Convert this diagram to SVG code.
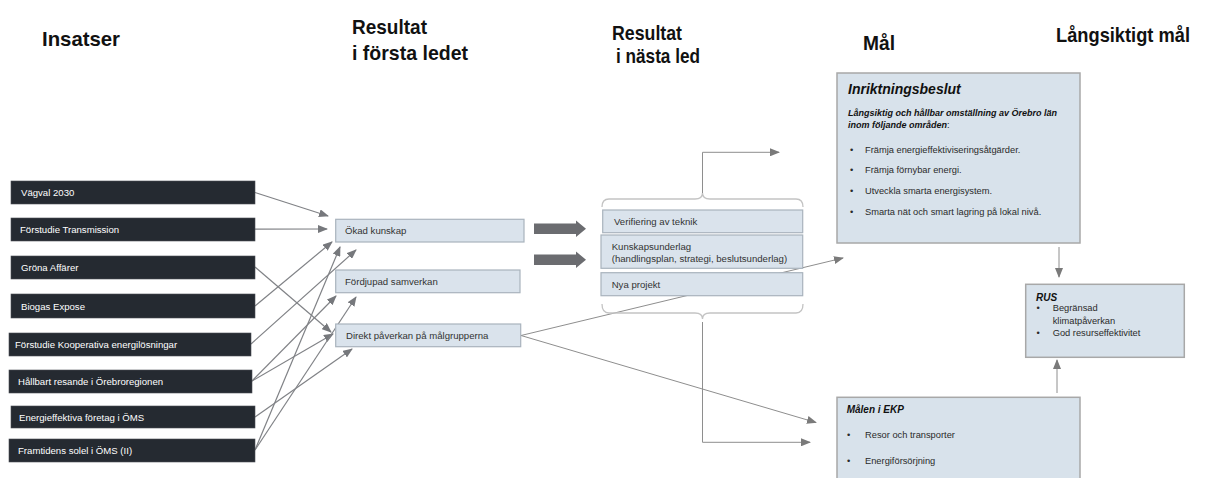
<svg xmlns="http://www.w3.org/2000/svg" width="1209" height="478" viewBox="0 0 1209 478">
<style>
  .hd{font-family:"Liberation Sans",Arial,sans-serif;font-weight:bold;font-size:21px;fill:#111;}
  .inb{fill:#252a31;stroke:#4a4e55;stroke-width:0.6;}
  .int{font-family:"Liberation Sans",Arial,sans-serif;font-size:9.6px;fill:#ffffff;}
  .rb{fill:#dae3ec;stroke:#a9b3bd;stroke-width:1.2;}
  .rt{font-family:"Liberation Sans",Arial,sans-serif;font-size:9.6px;fill:#333;}
  .gb{fill:#d8e2eb;stroke:#a8a8a8;stroke-width:1.5;}
  .gt{font-family:"Liberation Sans",Arial,sans-serif;font-size:9.3px;fill:#2a2a2a;}
  .gbi{font-family:"Liberation Sans",Arial,sans-serif;font-weight:bold;font-style:italic;fill:#111;}
  .ln{stroke:#808286;stroke-width:1.2;fill:none;marker-end:url(#ah);}
  .ln2{stroke:#8e8e8e;stroke-width:1;fill:none;marker-end:url(#ah2);}
  .br{stroke:#c3c3c3;stroke-width:1.3;fill:none;}
  .thick{fill:#6b6c70;}
</style>
<defs>
  <marker id="ah" markerUnits="userSpaceOnUse" markerWidth="10" markerHeight="8" refX="9" refY="4" orient="auto">
    <path d="M0,0 L10,4 L0,8 z" fill="#76787c"/>
  </marker>
  <marker id="ah2" markerUnits="userSpaceOnUse" markerWidth="10" markerHeight="8" refX="9" refY="4" orient="auto">
    <path d="M0,0 L10,4 L0,8 z" fill="#7a7a7a"/>
  </marker>
</defs>

<g id="headings">
  <text class="hd" x="42" y="46" textLength="78" lengthAdjust="spacingAndGlyphs">Insatser</text>
  <text class="hd" x="352" y="34" textLength="75" lengthAdjust="spacingAndGlyphs">Resultat</text>
  <text class="hd" x="352" y="60" textLength="116" lengthAdjust="spacingAndGlyphs">i första ledet</text>
  <text class="hd" x="612" y="40" textLength="70" lengthAdjust="spacingAndGlyphs">Resultat</text>
  <text class="hd" x="616" y="63" textLength="84" lengthAdjust="spacingAndGlyphs">i nästa led</text>
  <text class="hd" x="863" y="50" textLength="32" lengthAdjust="spacingAndGlyphs">Mål</text>
  <text class="hd" x="1056" y="42" font-size="18" textLength="134" lengthAdjust="spacingAndGlyphs">Långsiktigt mål</text>
</g>

<g id="connectors">
  <line class="ln" x1="255" y1="192.5" x2="328" y2="216"/>
  <line class="ln" x1="255" y1="229.2" x2="327" y2="229"/>
  <line class="ln" x1="255" y1="267" x2="331" y2="332"/>
  <line class="ln" x1="255" y1="306" x2="332" y2="242"/>
  <line class="ln" x1="251" y1="344" x2="356" y2="250"/>
  <line class="ln" x1="252" y1="381" x2="336" y2="296"/>
  <line class="ln" x1="252" y1="381" x2="333" y2="334"/>
  <line class="ln" x1="255" y1="417" x2="352" y2="349"/>
  <line class="ln" x1="255" y1="450" x2="340" y2="247"/>
  <line class="ln" x1="255" y1="450" x2="356" y2="297"/>
  <polygon class="thick" points="534,223.5 576,223.5 576,220.5 586,228.7 576,237 576,234 534,234"/>
  <polygon class="thick" points="534,254.5 576,254.5 576,251.5 586,259.7 576,268 576,265 534,265"/>
  <line class="ln2" x1="521" y1="335.5" x2="843" y2="258"/>
  <line class="ln2" x1="521" y1="335.5" x2="816" y2="422.5"/>
  <path class="br" d="M602,207 Q602,199 609,199 L695,199 Q702.5,199 702.5,193 Q702.5,199 710,199 L796,199 Q803,199 803,207"/>
  <polyline class="ln2" points="702.5,193 702.5,152.3 779,152.3"/>
  <path class="br" d="M602,304 Q602,313 609,313 L695,313 Q702.5,313 702.5,319 Q702.5,313 710,313 L796,313 Q803,313 803,304"/>
  <polyline class="ln2" points="702.5,322 702.5,442.3 810,442.3"/>
  <line class="ln2" x1="1059" y1="247" x2="1059" y2="277"/>
  <line class="ln2" x1="1057" y1="393" x2="1057" y2="360"/>
</g>

<g id="in-vagval"><rect class="inb" x="11" y="181" width="244" height="23"/><text class="int" x="21" y="196">Vägval 2030</text></g>
<g id="in-transmission"><rect class="inb" x="11" y="218" width="244" height="23"/><text class="int" x="20" y="233">Förstudie Transmission</text></g>
<g id="in-grona"><rect class="inb" x="11" y="256" width="244" height="23"/><text class="int" x="21" y="271">Gröna Affärer</text></g>
<g id="in-biogas"><rect class="inb" x="11" y="294" width="244" height="24"/><text class="int" x="21" y="309.5">Biogas Expose</text></g>
<g id="in-kooperativa"><rect class="inb" x="9" y="333" width="242" height="23"/><text class="int" x="15" y="348">Förstudie Kooperativa energilösningar</text></g>
<g id="in-hallbart"><rect class="inb" x="9" y="370" width="243" height="23"/><text class="int" x="18" y="385">Hållbart resande i Örebroregionen</text></g>
<g id="in-energieffektiva"><rect class="inb" x="11" y="406" width="244" height="22"/><text class="int" x="19" y="420.5">Energieffektiva företag i ÖMS</text></g>
<g id="in-solel"><rect class="inb" x="9" y="439" width="246" height="23"/><text class="int" x="18" y="454">Framtidens solel i ÖMS (II)</text></g>

<g id="res-okad"><rect class="rb" x="335.7" y="219.3" width="188.3" height="22.7"/><text class="rt" x="345" y="234.2">Ökad kunskap</text></g>
<g id="res-fordjupad"><rect class="rb" x="335.7" y="270" width="184.3" height="22.7"/><text class="rt" x="345" y="284.8">Fördjupad samverkan</text></g>
<g id="res-direkt"><rect class="rb" x="335.7" y="324" width="185" height="22.7"/><text class="rt" x="346" y="338.8">Direkt påverkan på målgrupperna</text></g>

<g id="next-verifiering"><rect class="rb" x="602.7" y="210" width="200" height="22.7"/><text class="rt" x="614" y="225.3">Verifiering av teknik</text></g>
<g id="next-kunskapsunderlag"><rect class="rb" x="601" y="235" width="201.7" height="33.3"/><text class="rt" x="611.7" y="250">Kunskapsunderlag</text><text class="rt" x="611.7" y="261.8">(handlingsplan, strategi, beslutsunderlag)</text></g>
<g id="next-nya"><rect class="rb" x="601" y="272.7" width="201.7" height="23"/><text class="rt" x="611.7" y="287.7">Nya projekt</text></g>

<g id="goal-inriktning">
  <rect class="gb" x="837" y="73" width="243" height="170"/>
  <text class="gbi" x="848" y="93.5" font-size="14">Inriktningsbeslut</text>
  <text class="gbi" x="848" y="116" font-size="9">Långsiktig och hållbar omställning av Örebro län</text>
  <text x="848" y="127.5" font-size="9" class="gt"><tspan class="gbi" font-size="9">inom följande områden</tspan>:</text>
  <text class="gt" x="850" y="152.5">•</text><text class="gt" x="865" y="152.5">Främja energieffektiviseringsåtgärder.</text>
  <text class="gt" x="850" y="173">•</text><text class="gt" x="865" y="173">Främja förnybar energi.</text>
  <text class="gt" x="850" y="194">•</text><text class="gt" x="865" y="194">Utveckla smarta energisystem.</text>
  <text class="gt" x="850" y="214.5">•</text><text class="gt" x="865" y="214.5">Smarta nät och smart lagring på lokal nivå.</text>
</g>

<g id="goal-rus">
  <rect class="gb" x="1025.7" y="284.3" width="158.6" height="73"/>
  <text class="gbi" x="1036" y="300.5" font-size="10">RUS</text>
  <text class="gt" x="1036.5" y="311" font-size="10">•</text><text class="gt" x="1052.7" y="311" font-size="10">Begränsad</text>
  <text class="gt" x="1052.7" y="324" font-size="10">klimatpåverkan</text>
  <text class="gt" x="1036.5" y="336" font-size="10">•</text><text class="gt" x="1052.7" y="336" font-size="10">God resurseffektivitet</text>
</g>

<g id="goal-ekp">
  <rect class="gb" x="837" y="397.3" width="243" height="90"/>
  <text class="gbi" x="846.7" y="413" font-size="10">Målen i EKP</text>
  <text class="gt" x="847" y="437.5" font-size="10">•</text><text class="gt" x="865" y="437.5" font-size="10">Resor och transporter</text>
  <text class="gt" x="847" y="463.5" font-size="10">•</text><text class="gt" x="865" y="463.5" font-size="10">Energiförsörjning</text>
</g>
</svg>
